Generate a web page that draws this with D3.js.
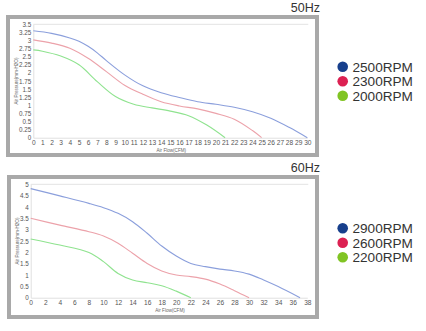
<!DOCTYPE html>
<html><head><meta charset="utf-8">
<script src="https://cdn.jsdelivr.net/npm/d3@7"></script>
<style>body{margin:0;background:#fff;}svg{display:block;font-family:"Liberation Sans",Arial,sans-serif;}</style>
</head><body>
<svg id="c" width="426" height="331"></svg>
<script>
// ---- data ----
const titles = ["50Hz", "60Hz"];
const xTicks50 = d3.range(0, 31, 1);
const yTicks50 = [0,0.25,0.5,0.75,1,1.25,1.5,1.75,2,2.25,2.5,2.75,3,3.25,3.5];
const xTicks60 = d3.range(0, 39, 2);
const yTicks60 = [0,0.5,1,1.5,2,2.5,3,3.5,4,4.5,5];
const legend50 = ["2500RPM", "2300RPM", "2000RPM"];
const legend60 = ["2900RPM", "2600RPM", "2200RPM"];

const flow50_2500 = [0,2,4,5,6,7,8,10,12,14,16,18,20,22,24,26,28,30];
const pres50_2500 = [3.3,3.22,3.08,2.98,2.82,2.62,2.38,1.94,1.6,1.39,1.24,1.11,1.03,0.94,0.8,0.6,0.32,0];
const flow50_2300 = [0,2,4,6,8,10,12,14,16,18,20,22,24,25];
const pres50_2300 = [3.02,2.92,2.76,2.45,2.04,1.62,1.34,1.11,0.98,0.89,0.75,0.57,0.22,0];
const flow50_2000 = [0,1,3,5,7,9,11,13,15,17,19,21];
const pres50_2000 = [2.71,2.67,2.52,2.25,1.73,1.27,1.03,0.92,0.82,0.68,0.39,0];

const flow60_2900 = [0,4,8,10,12,14,16,18,20,22,24,26,28,30,32,34,37];
const pres60_2900 = [4.81,4.49,4.16,3.97,3.72,3.35,2.84,2.28,1.84,1.51,1.37,1.26,1.18,1.04,0.78,0.49,0];
const flow60_2600 = [0,4,8,10,12,14,16,18,20,22,24,26,28,30];
const pres60_2600 = [3.5,3.2,2.91,2.72,2.4,1.96,1.51,1.18,1.0,0.93,0.82,0.6,0.31,0];
const flow60_2200 = [0,4,8,10,12,14,16,18,20,22];
const pres60_2200 = [2.59,2.32,1.99,1.59,1.07,0.78,0.66,0.53,0.29,0];

const lineColors = ["#8b9fdc", "#eca2aa", "#8fe38f"];
const dotColors = ["#173f8c", "#dc2152", "#80c423"];

const svg = d3.select("#c");

function panel(cfg) {
  const g = svg.append("g");
  g.append("rect").attr("x", cfg.fx + 2).attr("y", cfg.fy + 2)
    .attr("width", cfg.fw - 4).attr("height", cfg.fh - 4)
    .attr("fill", "#fff").attr("stroke", "#a9a9a9").attr("stroke-width", 4);
  g.append("text").attr("x", cfg.fx + cfg.fw + 1).attr("y", cfg.fy - 3)
    .attr("text-anchor", "end").attr("font-size", 12.5).attr("fill", "#333").text(cfg.title);

  const x = d3.scaleLinear().domain([0, cfg.xMax]).range([cfg.x0, cfg.x1]);
  const y = d3.scaleLinear().domain([0, cfg.yMax]).range([cfg.y0, cfg.y1]);

  g.append("line").attr("x1", cfg.x0).attr("x2", cfg.x1 + 1)
    .attr("y1", y(cfg.yMax)).attr("y2", y(cfg.yMax)).attr("stroke", "#e3e3e3").attr("stroke-width", 1);

  const xa = g.append("g").attr("transform", `translate(0,${cfg.y0})`)
    .call(d3.axisBottom(x).tickValues(cfg.xTicks).tickSize(0).tickPadding(3).tickFormat(d3.format("d")));
  xa.select(".domain").attr("stroke", "#e0e0e0");
  xa.selectAll("text").attr("font-size", 6.6).attr("fill", "#555").attr("font-family", "Liberation Sans, Arial");

  const ya = g.append("g").attr("transform", `translate(${cfg.x0},0)`)
    .call(d3.axisLeft(y).tickValues(cfg.yTicks).tickSize(0).tickPadding(2).tickFormat(d => String(d)));
  ya.select(".domain").attr("stroke", "#e0e0e0");
  ya.selectAll("text").attr("font-size", 6.3).attr("fill", "#555").attr("font-family", "Liberation Sans, Arial");

  g.append("text").attr("x", (cfg.x0 + cfg.x1) / 2 + 1).attr("y", cfg.y0 + 14)
    .attr("text-anchor", "middle").attr("font-size", 4.6).attr("fill", "#666").text("Air Flow(CFM)");
  g.append("text").attr("transform", `translate(${cfg.fx + 12},${(cfg.y0 + cfg.y1) / 2}) rotate(-90)`)
    .attr("text-anchor", "middle").attr("font-size", 4.6).attr("fill", "#666").text("Air Pressure(mm-H2O)");

  const line = d3.line().x(d => x(d[0])).y(d => y(d[1])).curve(d3.curveCatmullRom.alpha(0.5));
  cfg.series.forEach((s, i) => {
    g.append("path").datum(d3.zip(s[0], s[1])).attr("d", line)
      .attr("fill", "none").attr("stroke", lineColors[i]).attr("stroke-width", 1.1);
  });

  cfg.legend.forEach((t, i) => {
    const ly = cfg.ly + i * 14.5;
    g.append("circle").attr("cx", 342.7).attr("cy", ly).attr("r", 5.3).attr("fill", dotColors[i]);
    g.append("text").attr("x", 352.5).attr("y", ly + 4.8).attr("font-size", 13.6)
      .attr("fill", "#333").text(t);
  });
}

panel({
  title: titles[0], fx: 6, fy: 15, fw: 313, fh: 142,
  x0: 33.3, x1: 307.3, y0: 137.7, y1: 24.3, xMax: 30, yMax: 3.5,
  xTicks: xTicks50, yTicks: yTicks50, legend: legend50, ly: 66.7,
  series: [[flow50_2500, pres50_2500], [flow50_2300, pres50_2300], [flow50_2000, pres50_2000]]
});
panel({
  title: titles[1], fx: 7, fy: 175, fw: 312, fh: 144,
  x0: 30.7, x1: 307.3, y0: 297.7, y1: 184.3, xMax: 38, yMax: 5,
  xTicks: xTicks60, yTicks: yTicks60, legend: legend60, ly: 228.3,
  series: [[flow60_2900, pres60_2900], [flow60_2600, pres60_2600], [flow60_2200, pres60_2200]]
});
</script>
</body></html>
